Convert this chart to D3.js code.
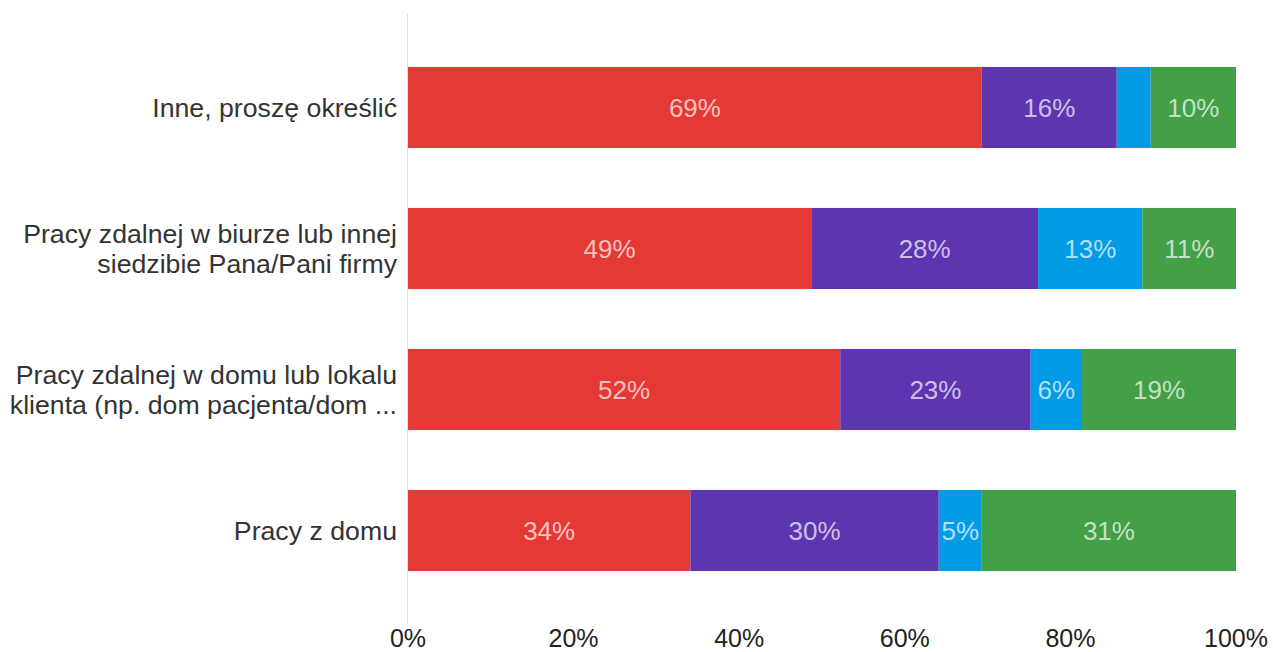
<!DOCTYPE html>
<html><head><meta charset="utf-8">
<script src="https://cdn.jsdelivr.net/npm/d3@7"></script>
<style>body{margin:0;background:#fff;}svg{display:block;font-family:"Liberation Sans",Arial,sans-serif;}</style>
</head><body>
<svg id="c" width="1273" height="652"></svg>
<script>
const categories = [
  ["Inne, proszę określić"],
  ["Pracy zdalnej w biurze lub innej", "siedzibie Pana/Pani firmy"],
  ["Pracy zdalnej w domu lub lokalu", "klienta (np. dom pacjenta/dom ..."],
  ["Pracy z domu"]
];
const seriesA = [69.3, 48.7, 52.2, 34.1];
const seriesB = [16.3, 27.4, 23.0, 30.0];
const seriesC = [4.1, 12.6, 6.2, 5.2];
const seriesD = [10.3, 11.3, 18.6, 30.7];
const seriesLabels = ["69%", "16%", "", "10%",  "49%", "28%", "13%", "11%",  "52%", "23%", "6%", "19%",  "34%", "30%", "5%", "31%"];
const colors = ["#e53935", "#5e35b1", "#039be5", "#43a047"];
const ticks = [0, 20, 40, 60, 80, 100];

const svg = d3.select("#c");
const x = d3.scaleLinear().domain([0, 100]).range([408, 1236]);
const y = d3.scaleBand().domain(d3.range(categories.length)).range([37, 601]).paddingInner(0.425).paddingOuter(0.2125);

const series = [seriesA, seriesB, seriesC, seriesD];

svg.append("line").attr("x1", 407.5).attr("x2", 407.5).attr("y1", 14).attr("y2", 625)
  .attr("stroke", "#e0e0e0").attr("stroke-width", 1);

categories.forEach((cat, i) => {
  let acc = 0;
  series.forEach((s, j) => {
    const v = s[i];
    const x0 = x(acc), x1 = x(acc + v);
    acc += v;
    svg.append("rect").attr("x", x0).attr("y", y(i)).attr("width", x1 - x0).attr("height", y.bandwidth()).attr("fill", colors[j]);
    const lab = seriesLabels[i * 4 + j];
    if (lab) {
      svg.append("text").attr("x", (x0 + x1) / 2).attr("y", y(i) + y.bandwidth() / 2).attr("dy", "0.35em")
        .attr("text-anchor", "middle").attr("font-size", 26).attr("fill", "rgba(255,255,255,0.7)").text(lab);
    }
  });
  const t = svg.append("text").attr("text-anchor", "end").attr("font-size", 26.7).attr("fill", "#333");
  const cy = y(i) + y.bandwidth() / 2;
  const n = cat.length;
  cat.forEach((line, k) => {
    t.append("tspan").attr("x", 397).attr("y", cy + (k - (n - 1) / 2) * 29.5).attr("dy", "0.35em").text(line);
  });
});

ticks.forEach(tv => {
  svg.append("text").attr("x", x(tv)).attr("y", 647).attr("text-anchor", "middle").attr("font-size", 25).attr("fill", "#222").text(tv + "%");
});
</script>
</body></html>
